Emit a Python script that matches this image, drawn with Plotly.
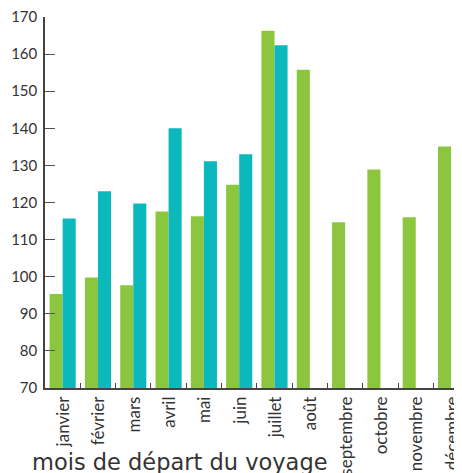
import plotly.graph_objects as go

months = ["janvier", "février", "mars", "avril", "mai", "juin", "juillet",
          "août", "septembre", "octobre", "novembre", "décembre"]
serie_verte = [95.3, 99.8, 97.7, 117.6, 116.3, 124.8, 166.3, 155.8, 114.7, 128.9, 116.0, 135.1]
serie_bleue = [115.7, 123.0, 119.7, 140.0, 131.1, 133.0, 162.4, None, None, None, None, None]
y_ticks = [70, 80, 90, 100, 110, 120, 130, 140, 150, 160, 170]

GREEN = "#8cc63f"
TEAL = "#0bb9bd"
FONT = "Lato"
TXT = "#333333"

fig = go.Figure()
fig.add_trace(go.Bar(x=months, y=serie_verte, marker=dict(color=GREEN, line=dict(width=0)),
                     showlegend=False))
fig.add_trace(go.Bar(x=months, y=serie_bleue, marker=dict(color=TEAL, line=dict(width=0)),
                     showlegend=False))

# page has an 8px body margin: figure drawn at (8, 8)
fig.update_layout(
    width=454, height=465,
    margin=dict(l=37, r=0, t=9, b=85, pad=0),
    paper_bgcolor="white", plot_bgcolor="white",
    barmode="group", bargap=0.26, bargroupgap=0,
    font=dict(family=FONT, color=TXT),
    xaxis=dict(
        type="category", range=[-0.5, 11.31], automargin=False,
        showline=True, linecolor="#444", linewidth=1.5,
        ticks="inside", tickson="boundaries", ticklen=5, tickcolor="#444",
        tickangle=-90, tickfont=dict(size=17, family=FONT, color=TXT),
        ticklabeloverflow="allow", ticklabelshift=1,
        showgrid=False, zeroline=False,
    ),
    yaxis=dict(
        range=[69.98, 170.02], tickvals=y_ticks, automargin=False,
        showline=True, linecolor="#444", linewidth=1.5,
        ticks="inside", ticklen=10, tickcolor="#555",
        tickfont=dict(size=15, family=FONT, color=TXT),
        ticklabeloverflow="allow", ticklabelstandoff=3,
        showgrid=False, zeroline=False,
    ),
    annotations=[dict(
        text="mois de départ du voyage", xref="paper", yref="paper",
        x=(30 - 45) / 417, y=-(462 - 387.7) / 371, xanchor="left", yanchor="middle",
        showarrow=False, font=dict(size=22.5, family="DejaVu Sans", color=TXT),
    )],
)

fig.write_html("out.html")
